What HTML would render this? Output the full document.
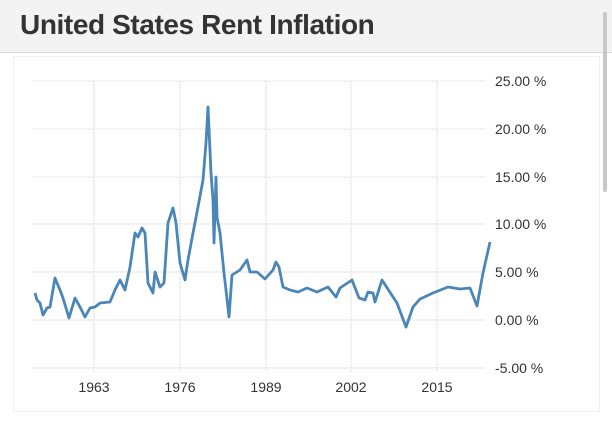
<!DOCTYPE html>
<html><head><style>
body{margin:0;width:612px;height:446px;background:#fff;overflow:hidden;font-family:"Liberation Sans",sans-serif;position:relative}
.hdr{position:absolute;left:0;top:0;width:612px;height:52px;background:#f3f3f3;border-bottom:1px solid #d6d6d6}
.hdr h1{margin:0;position:absolute;left:20px;top:9px;font-size:28px;font-weight:bold;color:#333;letter-spacing:-0.4px}
.card{position:absolute;left:13px;top:56px;width:585px;height:354px;border:1px solid #f0f0f0;background:#fff}
.sb{position:absolute;left:603px;top:12px;width:4px;height:180px;background:#c8c8c8;border-radius:2px}
</style></head><body>
<div class="hdr"><h1>United States Rent Inflation</h1></div>
<div class="card"></div>
<div class="sb"></div>
<svg width="612" height="446" style="position:absolute;left:0;top:0">
<g stroke="#d0d0d0" stroke-width="1" stroke-dasharray="1,1">
<line x1="32" y1="81" x2="486" y2="81"/>
<line x1="32" y1="129" x2="486" y2="129"/>
<line x1="32" y1="177" x2="486" y2="177"/>
<line x1="32" y1="224" x2="486" y2="224"/>
<line x1="32" y1="272" x2="486" y2="272"/>
<line x1="32" y1="320" x2="486" y2="320"/>
<line x1="32" y1="368" x2="486" y2="368"/>
<line x1="94" y1="81" x2="94" y2="372"/>
<line x1="180" y1="81" x2="180" y2="372"/>
<line x1="266" y1="81" x2="266" y2="372"/>
<line x1="351" y1="81" x2="351" y2="372"/>
<line x1="437" y1="81" x2="437" y2="372"/>
</g>
<g font-size="14" fill="#333" font-family="Liberation Sans, sans-serif">
<text x="495" y="86">25.00 %</text>
<text x="495" y="134">20.00 %</text>
<text x="495" y="182">15.00 %</text>
<text x="495" y="229">10.00 %</text>
<text x="495" y="277">5.00 %</text>
<text x="495" y="325">0.00 %</text>
<text x="495" y="373">-5.00 %</text>
<g text-anchor="middle">
<text x="94" y="392">1963</text>
<text x="180" y="392">1976</text>
<text x="266" y="392">1989</text>
<text x="351" y="392">2002</text>
<text x="437" y="392">2015</text>
</g></g>
<polyline fill="none" stroke="#4a86b8" stroke-width="2.8" stroke-linejoin="round" points="35,293 37,300 40,303 43,315 47,308 50,307 55,278 60,290 63,298 69,318 75,298 80,307 85,317 90,308 95,307 100,303 110,302 115,290 120,280 125,290 130,267 135,233 138,237 142,228 145,233 148,283 153,293 155,272 160,287 164,283 168,223 173,208 176,223 180,263 185,280 188,260 193,233 198,207 203,180 206,143 208,107 211,173 213,200 214,243 216,177 217,217 220,233 224,273 226,290 229,317 232,275 240,270 247,260 250,272 257,272 265,279 273,270 276,262 279,267 283,287 290,290 298,292 307,288 317,292 328,287 336,297 340,288 352,280 359,298 365,300 368,292 373,293 375,302 382,280 397,303 406,327 413,307 420,299 433,293 448,287 460,289 470,288 477,306 483,273 490,242"/>
</svg>
</body></html>
